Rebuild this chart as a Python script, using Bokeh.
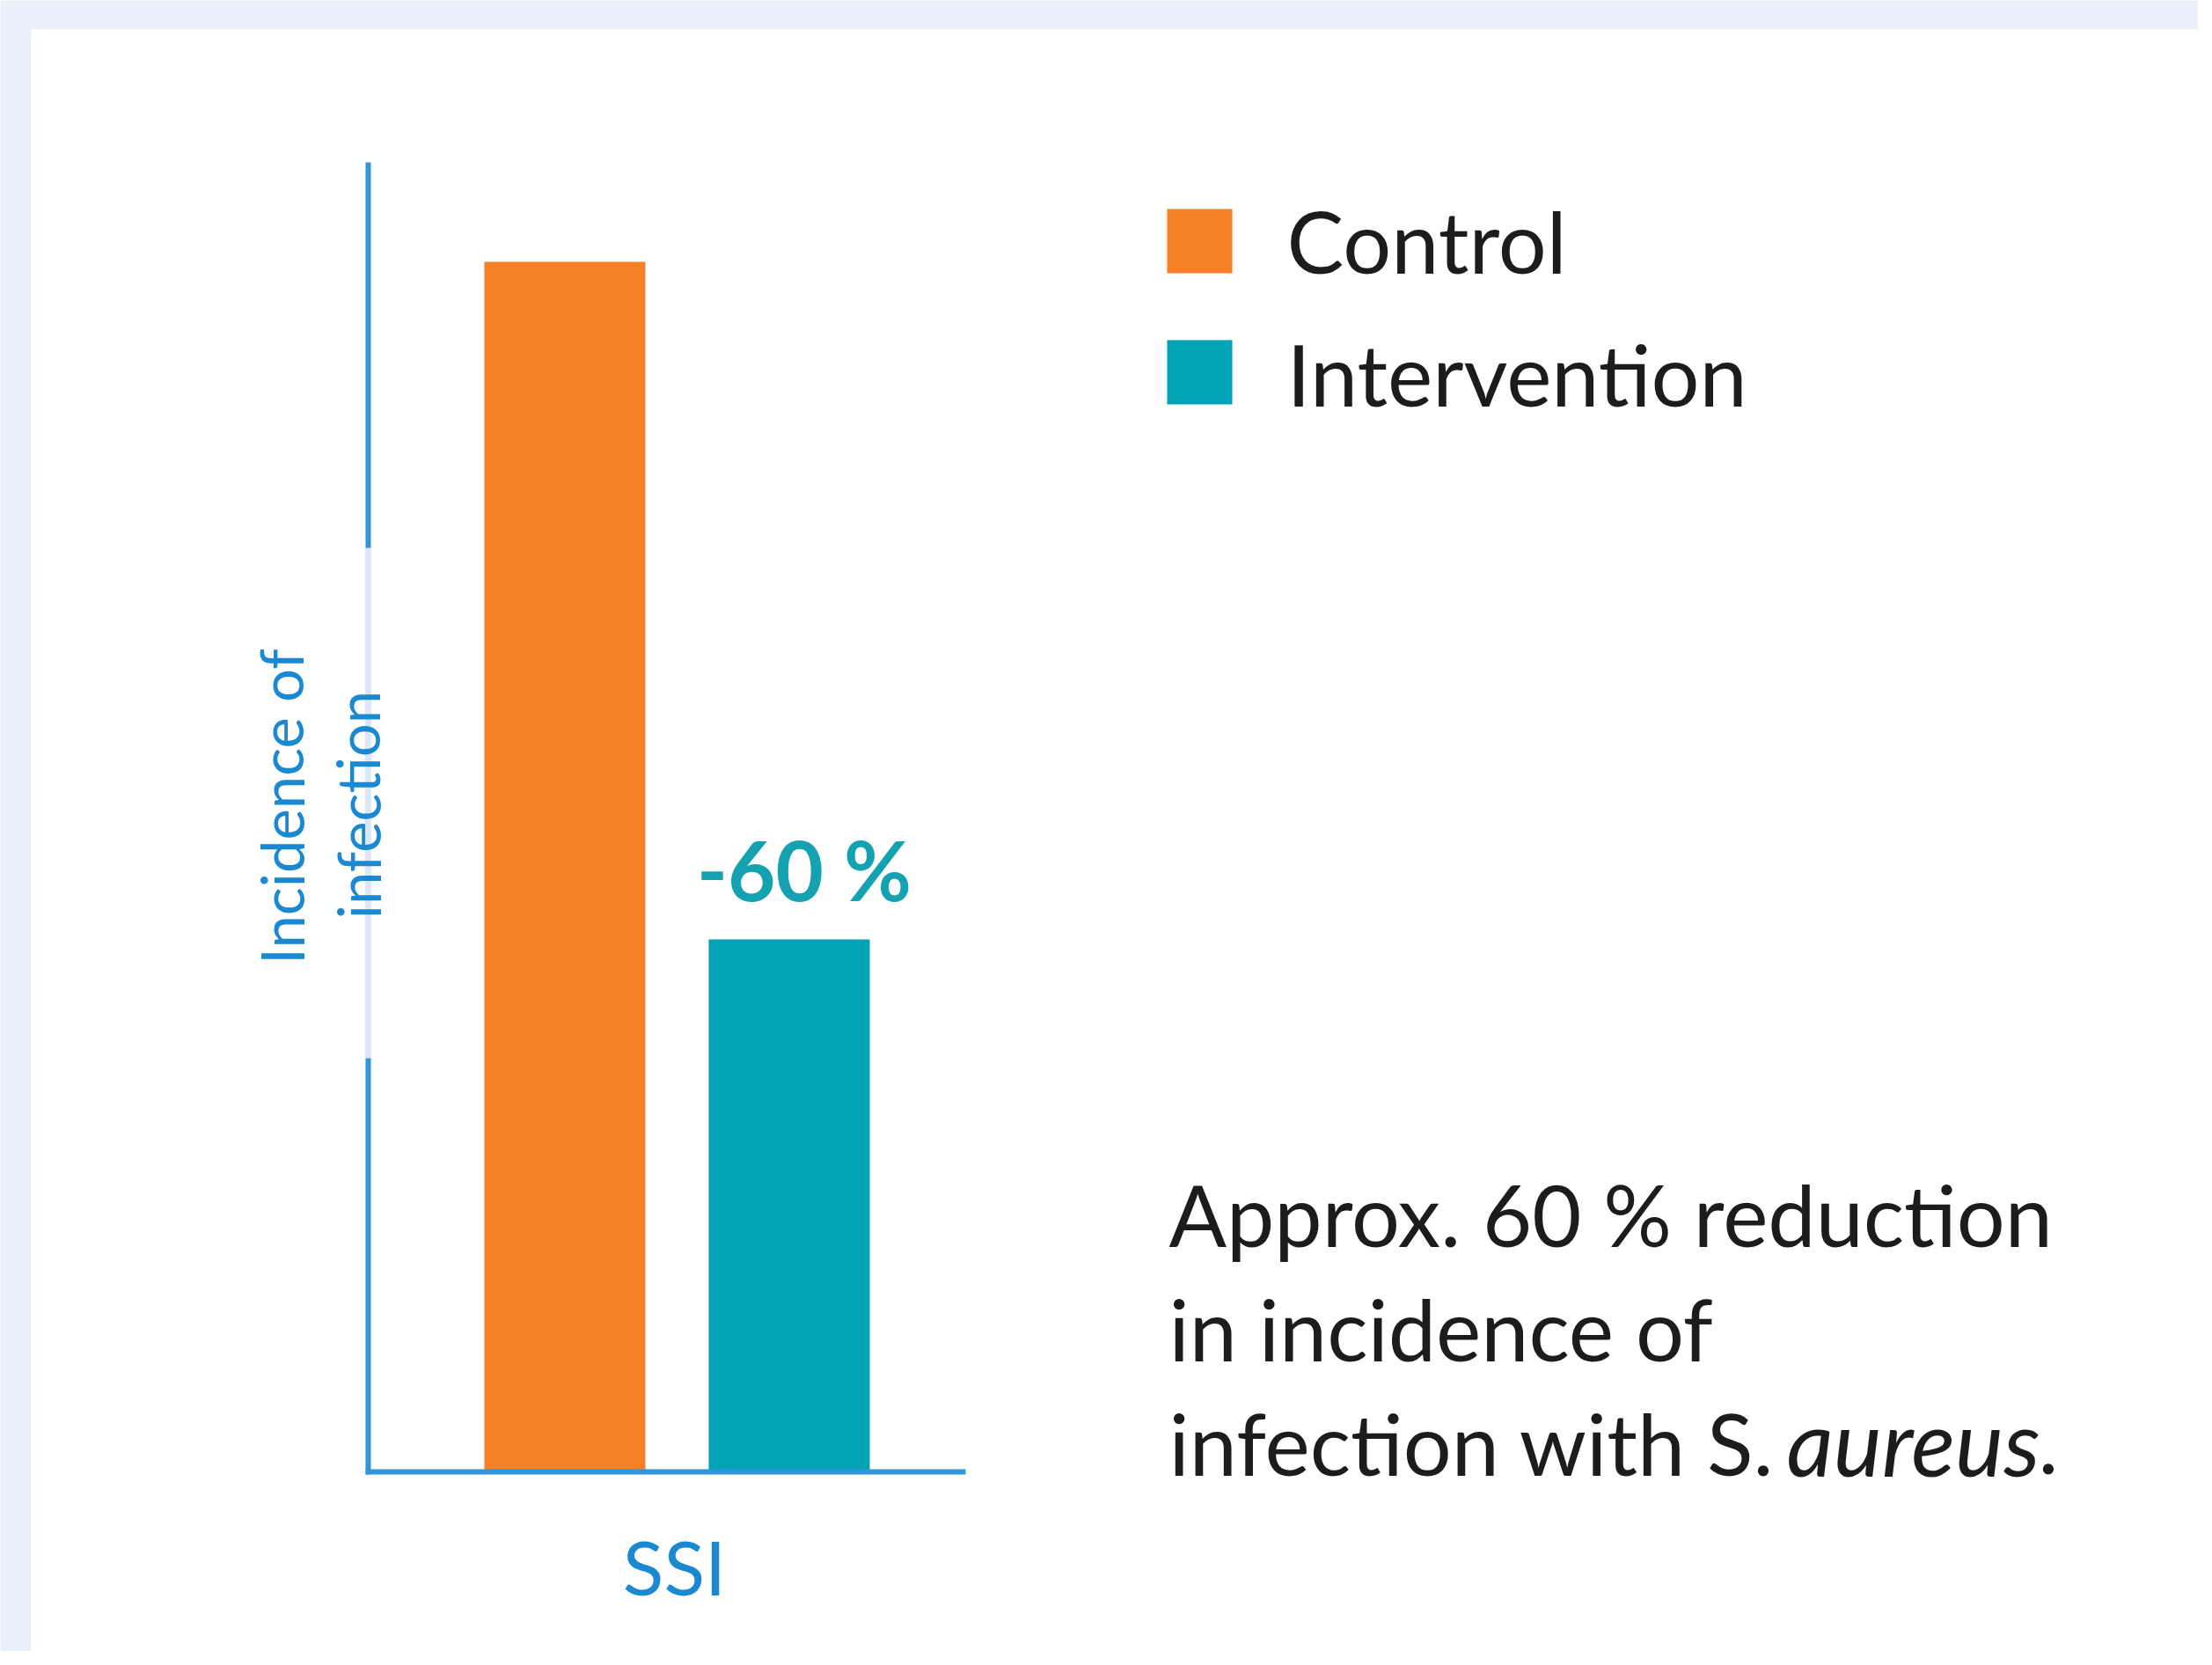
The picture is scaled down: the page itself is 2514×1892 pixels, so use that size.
from bokeh.plotting import figure
from bokeh.models import Range1d, ColumnDataSource
from bokeh.core.properties import value
from bokeh.embed import file_html
from bokeh.resources import INLINE

# ---------------- data ----------------
group = "SSI"
series = ["Control", "Intervention"]
incidence = [100, 44]          # relative incidence of infection (Control = 100)
series_colors = ["#f58026", "#00a4b4"]
reduction_label = "-60 %"
y_axis_label = ["Incidence of", "infection"]
note_lines = ["Approx. 60 % reduction", "in incidence of", "infection with S."]
note_italic = "aureus"

# ---------------- layout (reference pixel coordinates) ----------------
W, H = 2498, 1876
FRAME_L, FRAME_T = 35, 33     # white panel starts here
FRAME_R, FRAME_B = W, H
BASE_ROW, TOP_ROW = 1672, 297  # pixel rows of value 0 and of max value
PPU = (BASE_ROW - TOP_ROW) / max(incidence)
BL_FIX = 0.35                  # empirical baseline correction (em)

def yv(row):
    return (BASE_ROW - row) / PPU

def ybl(row, size):
    return yv(row - BL_FIX * size)

FONT = "Lato"
BLUE = "#2f95dc"
LABEL_BLUE = "#1b88d2"
TEAL_TXT = "#14a2b0"
BLACK = "#1c1c1c"

p = figure(width=W, height=H, output_backend="svg", toolbar_location=None,
           x_axis_location=None, y_axis_location=None,
           x_range=Range1d(FRAME_L, FRAME_R),
           y_range=Range1d(yv(FRAME_B), yv(FRAME_T)),
           min_border_left=FRAME_L, min_border_top=FRAME_T,
           min_border_right=0, min_border_bottom=0,
           background_fill_color="white", border_fill_color="#e8f0f9",
           outline_line_color=None)
p.grid.visible = False

# bars
GROUP_C, BAR_STEP, BAR_W = 769, 255, 183
xs = [GROUP_C + (i - (len(series) - 1) / 2) * BAR_STEP for i in range(len(series))]
src = ColumnDataSource(dict(x=xs, top=incidence, color=series_colors, name=series))
p.vbar(x="x", top="top", bottom=0, width=BAR_W, fill_color="color", line_color=None, source=src)

# axes
AX_X, AX_TOP, AX_END = 418, 184, 1097
p.segment(x0=[AX_X], y0=[yv(BASE_ROW + 3)], x1=[AX_X], y1=[yv(AX_TOP)],
          line_color=BLUE, line_width=6)
p.segment(x0=[AX_X - 3], y0=[0], x1=[AX_END], y1=[0], line_color=BLUE, line_width=6)
p.segment(x0=[AX_X], y0=[yv(622)], x1=[AX_X], y1=[yv(1202)], line_color="#d9e7f7", line_width=7)

# y-axis label (rotated, two lines)
YL_SIZE = 67
p.text(x=[349 - 30, 436 - 30], y=[yv(916), yv(914)], text=y_axis_label, angle=1.5708,
       text_align="center", text_baseline="alphabetic", text_color=LABEL_BLUE,
       text_font=value(FONT), text_font_size=f"{YL_SIZE}px")

# x category label
SSI_SIZE = 86
p.text(x=[GROUP_C - 3], y=[ybl(1809, SSI_SIZE)], text=[group], text_align="center",
       text_baseline="alphabetic", text_color=LABEL_BLUE,
       text_font=value(FONT), text_font_size=f"{SSI_SIZE}px")

# reduction label above intervention bar
RED_SIZE = 94
p.text(x=[xs[1] + 17], y=[ybl(1020, RED_SIZE)], text=[reduction_label], text_align="center",
       text_baseline="alphabetic", text_color=TEAL_TXT, text_font=value(FONT),
       text_font_size=f"{RED_SIZE}px", text_font_style="bold")

# legend
LEG_X0, LEG_X1, LEG_ROWS, LEG_SZ = 1326, 1400, [237, 386], 73
LEG_SIZE = 97
p.quad(left=[LEG_X0] * 2, right=[LEG_X1] * 2,
       top=[yv(r) for r in LEG_ROWS], bottom=[yv(r + LEG_SZ) for r in LEG_ROWS],
       fill_color=series_colors, line_color=None)
p.text(x=[1462] * 2, y=[ybl(307, LEG_SIZE), ybl(458, LEG_SIZE)], text=series, text_align="left",
       text_baseline="alphabetic", text_color=BLACK, text_font=value(FONT),
       text_font_size=f"{LEG_SIZE}px")

# note
NOTE_SIZE = 97
NOTE_X, NOTE_ROWS = 1328, [1413, 1543, 1673]
p.text(x=[NOTE_X] * 3, y=[ybl(r, NOTE_SIZE) for r in NOTE_ROWS], text=note_lines, text_align="left",
       text_baseline="alphabetic", text_color=BLACK, text_font=value(FONT),
       text_font_size=f"{NOTE_SIZE}px")
IT_SIZE = 104
p.text(x=[2030], y=[ybl(1673, IT_SIZE)], text=[note_italic], text_align="left",
       text_baseline="alphabetic", text_color=BLACK, text_font=value(FONT),
       text_font_size=f"{IT_SIZE}px", text_font_style="italic")
p.text(x=[2316], y=[ybl(1673, NOTE_SIZE)], text=["."], text_align="left",
       text_baseline="alphabetic", text_color=BLACK, text_font=value(FONT),
       text_font_size=f"{NOTE_SIZE}px")

open("out.html", "w").write(file_html(p, INLINE))
